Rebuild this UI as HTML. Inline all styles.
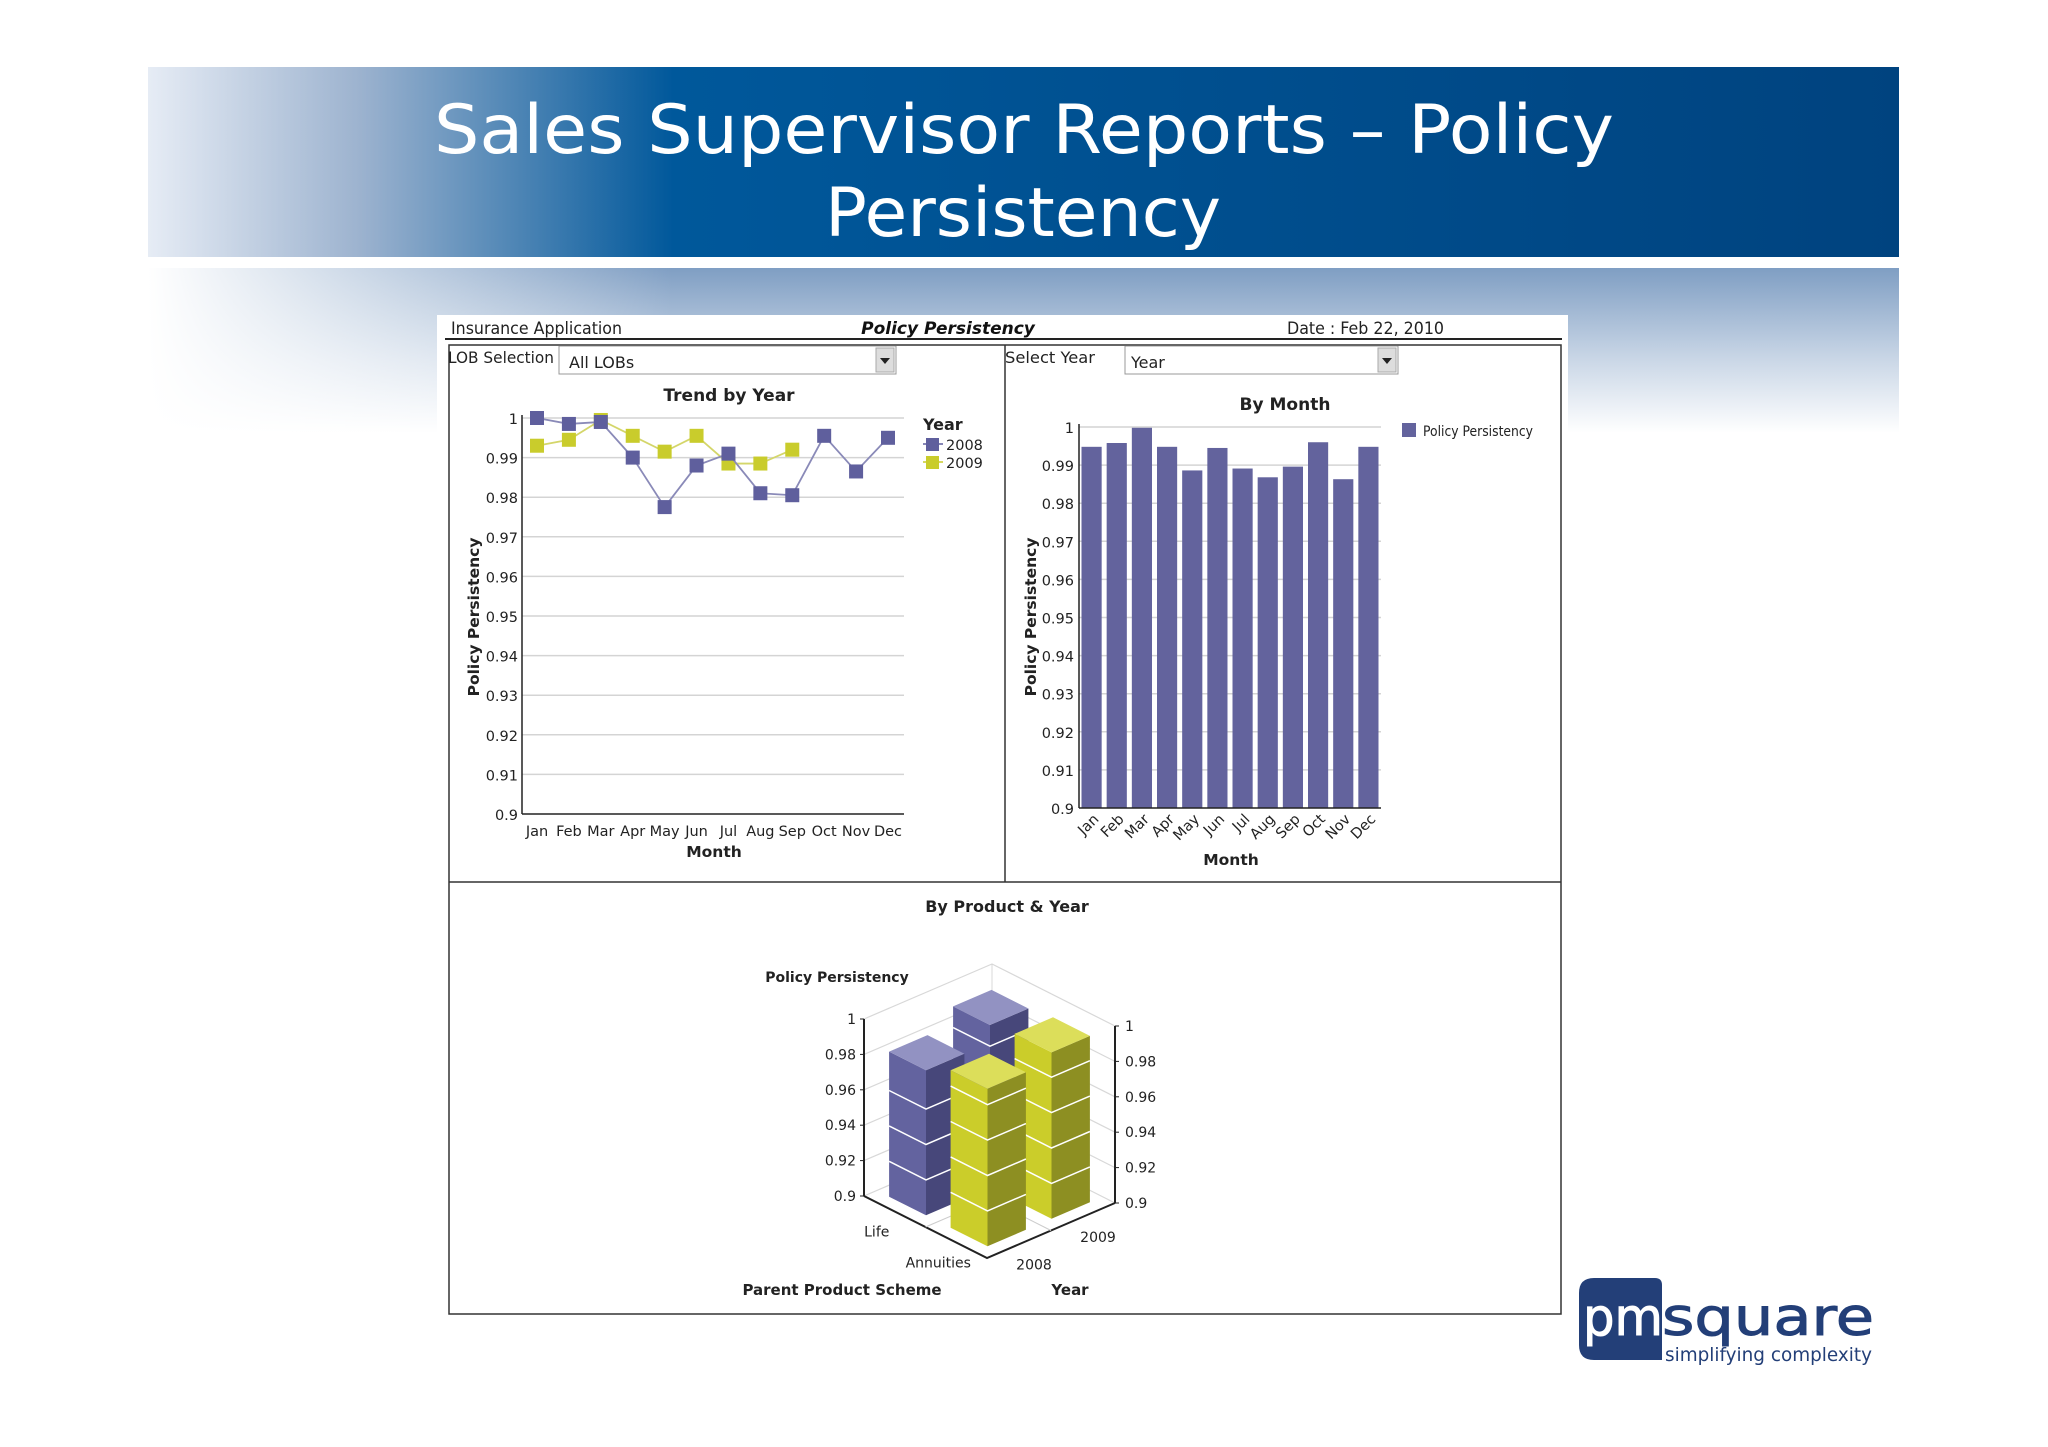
<!DOCTYPE html>
<html><head><meta charset="utf-8"><style>
html,body{margin:0;padding:0;background:#fff;}
svg{display:block;font-family:"DejaVu Sans","Liberation Sans",sans-serif;}
</style></head><body>
<svg id="s" width="2048" height="1447" viewBox="0 0 2048 1447" xmlns="http://www.w3.org/2000/svg">
<defs>
<linearGradient id="ban" x1="0" x2="1" y1="0" y2="0">
<stop offset="0" stop-color="#e6ecf5"/><stop offset="0.12" stop-color="#9db3cf"/><stop offset="0.3" stop-color="#00589b"/><stop offset="1" stop-color="#00437f"/></linearGradient>
<linearGradient id="band" x1="0" x2="0" y1="0" y2="1">
<stop offset="0" stop-color="#7f9ec3"/><stop offset="0.55" stop-color="#c9d6e6"/><stop offset="1" stop-color="#ffffff"/></linearGradient>
<linearGradient id="bandL" x1="0" x2="1" y1="0" y2="0">
<stop offset="0" stop-color="#fff" stop-opacity="1"/><stop offset="0.3" stop-color="#fff" stop-opacity="0"/><stop offset="1" stop-color="#fff" stop-opacity="0"/></linearGradient>
</defs>
<rect x="148" y="67" width="1751" height="190" fill="url(#ban)"/>
<text x="434" y="153" font-size="68" fill="#fff" textLength="1180" lengthAdjust="spacingAndGlyphs">Sales Supervisor Reports – Policy</text>
<text x="825" y="236" font-size="68" fill="#fff" textLength="396" lengthAdjust="spacingAndGlyphs">Persistency</text>
<rect x="148" y="268" width="1751" height="165" fill="url(#band)"/>
<rect x="148" y="268" width="1751" height="165" fill="url(#bandL)"/>

<rect x="437" y="315" width="1131" height="1000" fill="#fff"/>
<text x="451" y="334" font-size="17" fill="#222" textLength="171" lengthAdjust="spacingAndGlyphs">Insurance Application</text>
<text x="948" y="334" font-size="17" fill="#111" font-weight="bold" font-style="italic" text-anchor="middle">Policy Persistency</text>
<text x="1287" y="334" font-size="17" fill="#222" textLength="157" lengthAdjust="spacingAndGlyphs">Date : Feb 22, 2010</text>
<line x1="445" y1="339" x2="1562" y2="339" stroke="#222" stroke-width="2"/>
<rect x="449" y="345" width="1112" height="969" fill="none" stroke="#333" stroke-width="1.5"/>
<line x1="1005" y1="345" x2="1005" y2="882" stroke="#333" stroke-width="1.5"/>
<line x1="449" y1="882" x2="1561" y2="882" stroke="#333" stroke-width="1.5"/>

<text x="448" y="363" font-size="16" fill="#222" textLength="106" lengthAdjust="spacingAndGlyphs">LOB Selection</text>
<g>
<rect x="559" y="346" width="337" height="28" fill="#fff" stroke="#999"/>
<text x="569" y="368" font-size="16" fill="#222">All LOBs</text>
<rect x="876" y="348" width="18" height="24" fill="#ddd" stroke="#aaa"/>
<path d="M880 358 L890 358 L885 364 Z" fill="#222"/>
</g>
<text x="1005" y="363" font-size="16" fill="#222" textLength="90" lengthAdjust="spacingAndGlyphs">Select Year</text>
<g>
<rect x="1125" y="346" width="273" height="28" fill="#fff" stroke="#999"/>
<text x="1131" y="368" font-size="16" fill="#222">Year</text>
<rect x="1378" y="348" width="18" height="24" fill="#ddd" stroke="#aaa"/>
<path d="M1382 358 L1392 358 L1387 364 Z" fill="#222"/>
</g>
<g id="c1"></g><g id="c2"></g><g id="c3"></g>

<g>
<path d="M1594 1278 H1655 Q1662 1278 1662 1285 V1360 H1594 Q1579 1360 1579 1345 V1293 Q1579 1278 1594 1278 Z" fill="#233f78"/>
<text x="1583" y="1335" font-size="52" fill="#fff" stroke="#fff" stroke-width="1" textLength="80" lengthAdjust="spacingAndGlyphs">pm</text>
<text x="1662" y="1335" font-size="52" fill="#233f78" stroke="#233f78" stroke-width="1" textLength="212" lengthAdjust="spacingAndGlyphs">square</text>
<text x="1665" y="1361" font-size="19" fill="#233f78" textLength="207" lengthAdjust="spacingAndGlyphs">simplifying complexity</text>
</g>
</svg>
<script>
const NS="http://www.w3.org/2000/svg";
function mk(p,t,a,txt){const e=document.createElementNS(NS,t);for(const k in a)e.setAttribute(k,a[k]);if(txt!==undefined)e.textContent=txt;p.appendChild(e);return e;}
// ---- data ----
const months=["Jan","Feb","Mar","Apr","May","Jun","Jul","Aug","Sep","Oct","Nov","Dec"];
const yTicks=[0.9,0.91,0.92,0.93,0.94,0.95,0.96,0.97,0.98,0.99,1];
const yTickLabels=["0.9","0.91","0.92","0.93","0.94","0.95","0.96","0.97","0.98","0.99","1"];
const trend2008=[1.0,0.9985,0.999,0.990,0.9775,0.988,0.991,0.981,0.9805,0.9955,0.9865,0.995];
const trend2009=[0.993,0.9945,0.9995,0.9955,0.9915,0.9955,0.9885,0.9885,0.992];
const byMonth=[0.9948,0.9958,0.9998,0.9948,0.9886,0.9945,0.9891,0.9868,0.9896,0.996,0.9863,0.9948];
const products=["Annuities","Life"];
const years=["2008","2009"];
const annuitiesVals=[0.989,0.994];
const lifeVals=[0.982,0.992];
const y3Ticks=[0.9,0.92,0.94,0.96,0.98,1];
const y3Labels=["0.9","0.92","0.94","0.96","0.98","1"];
const PURPLE="#62629e",YEL="#c9cc2c";

// ---- chart 1 line ----
(function(){
const g=document.getElementById('c1');
const X0=522,X1=904,Y0=814,Y1=418;
const y=v=>Y0-(v-0.9)/0.1*(Y0-Y1);
const x=i=>537+i*(888-537)/11;
mk(g,'text',{x:729,y:401,'font-size':17,'font-weight':'bold','text-anchor':'middle',fill:'#222'},'Trend by Year');
yTicks.forEach((t,i)=>{
 if(i>0){const l=mk(g,'line',{x1:X0,x2:X1,y1:y(t),y2:y(t),stroke:'#d4d4d4','stroke-width':1.5});}
 const tx=mk(g,'text',{x:518,y:y(t)+6,'font-size':14.5,'text-anchor':'end',fill:'#222'},yTickLabels[i]);
 
});
mk(g,'line',{x1:X0,x2:X0,y1:Y1-3,y2:Y0,stroke:'#222','stroke-width':1.5});
mk(g,'line',{x1:X0,x2:X1,y1:Y0,y2:Y0,stroke:'#222','stroke-width':1.5});
months.forEach((m,i)=>{const t=mk(g,'text',{x:x(i),y:836,'font-size':14.5,'text-anchor':'middle',fill:'#222'},m);});
mk(g,'text',{x:714,y:857,'font-size':15.5,'font-weight':'bold','text-anchor':'middle',fill:'#222'},'Month');
const yt=mk(g,'text',{x:0,y:0,'font-size':15.5,'font-weight':'bold','text-anchor':'middle',fill:'#222',transform:'translate(479,617) rotate(-90)'},'Policy Persistency');

[[trend2009,YEL,'2009'],[trend2008,'#5f5f9d','2008']].forEach(([arr,c,nm])=>{
 const pl=mk(g,'polyline',{points:arr.map((v,i)=>x(i)+','+y(v)).join(' '),fill:'none',stroke:nm==='2008'?'#8a8ab8':'#d4d66a','stroke-width':1.8});
 
 arr.forEach((v,i)=>{const r=mk(g,'rect',{x:x(i)-7,y:y(v)-7,width:14,height:14,fill:c});
 });
});
mk(g,'text',{x:923,y:430,'font-size':16,'font-weight':'bold',fill:'#222'},'Year');
[['2008','#5f5f9d',450],['2009',YEL,468]].forEach(([n,c,yy])=>{
 const lg=mk(g,'g',{});
 mk(lg,'line',{x1:923,x2:943,y1:yy-6,y2:yy-6,stroke:c,'stroke-width':1.5});
 mk(lg,'rect',{x:926,y:yy-12,width:13,height:13,fill:c});
 mk(lg,'text',{x:946,y:yy,'font-size':14.5,fill:'#222'},n);
});
})();

// ---- chart 2 bars ----
(function(){
const g=document.getElementById('c2');
const X0=1079,X1=1381,Y0=808,Y1=427;
const y=v=>Y0-(v-0.9)/0.1*(Y0-Y1);
const bw=(X1-X0)/12;
mk(g,'text',{x:1285,y:410,'font-size':17,'font-weight':'bold','text-anchor':'middle',fill:'#222'},'By Month');
yTicks.forEach((t,i)=>{
 if(i>0){mk(g,'line',{x1:X0,x2:X1,y1:y(t),y2:y(t),stroke:'#d4d4d4','stroke-width':1.5});}
 const tx=mk(g,'text',{x:1074,y:y(t)+6,'font-size':14.5,'text-anchor':'end',fill:'#222'},yTickLabels[i]);
 
});
byMonth.forEach((v,i)=>{const r=mk(g,'rect',{x:X0+i*bw+2.5,y:y(v),width:bw-5,height:Y0-y(v),fill:'#63639d'});
 });
mk(g,'line',{x1:X0,x2:X0,y1:Y1-3,y2:Y0,stroke:'#222','stroke-width':1.5});
mk(g,'line',{x1:X0,x2:X1,y1:Y0,y2:Y0,stroke:'#222','stroke-width':1.5});
months.forEach((m,i)=>{const cx=X0+(i+0.5)*bw+8;const t=mk(g,'text',{x:0,y:0,'font-size':14.5,'text-anchor':'end',fill:'#222',transform:`translate(${cx},${820}) rotate(-45)`},m);});
mk(g,'text',{x:1231,y:865,'font-size':15.5,'font-weight':'bold','text-anchor':'middle',fill:'#222'},'Month');
const yt=mk(g,'text',{x:0,y:0,'font-size':15.5,'font-weight':'bold','text-anchor':'middle',fill:'#222',transform:'translate(1036,617) rotate(-90)'},'Policy Persistency');

const lg=mk(g,'g',{});
mk(lg,'rect',{x:1402,y:423,width:14,height:14,fill:'#63639d'});
mk(lg,'text',{x:1423,y:436,'font-size':14,fill:'#222',textLength:110,lengthAdjust:'spacingAndGlyphs'},'Policy Persistency');
})();

// ---- chart 3 3D bars ----
(function(){
const g=document.getElementById('c3');
const F=[987,1258],U=[-123,-62],V=[128,-55],H=1770;
const P=(u,v,val)=>[F[0]+u*U[0]+v*V[0],F[1]+u*U[1]+v*V[1]-(val-0.9)*H];
const pts=a=>a.map(p=>p[0].toFixed(1)+','+p[1].toFixed(1)).join(' ');
mk(g,'text',{x:1007,y:912,'font-size':16,'font-weight':'bold','text-anchor':'middle',fill:'#222'},'By Product & Year');
mk(g,'text',{x:837,y:982,'font-size':14,'font-weight':'bold','text-anchor':'middle',fill:'#222'},'Policy Persistency');
y3Ticks.forEach((t,i)=>{
 const a=P(1,0,t),b=P(1,1,t),c=P(0,1,t);
 mk(g,'polyline',{points:pts([a,b,c]),fill:'none',stroke:'#d8d8d8','stroke-width':1.2});
 const l=mk(g,'text',{x:a[0]-8,y:a[1]+5,'font-size':14,'text-anchor':'end',fill:'#222'},y3Labels[i]);
 
 const r=mk(g,'text',{x:c[0]+10,y:c[1]+5,'font-size':14,fill:'#222'},y3Labels[i]);
 
 mk(g,'line',{x1:a[0]-4,x2:a[0],y1:a[1],y2:a[1],stroke:'#222'});
 mk(g,'line',{x1:c[0],x2:c[0]+4,y1:c[1],y2:c[1],stroke:'#222'});
});
mk(g,'line',{x1:P(1,1,0.9)[0],y1:P(1,1,0.9)[1],x2:P(1,1,1)[0],y2:P(1,1,1)[1],stroke:'#d8d8d8'});
mk(g,'polyline',{points:pts([P(1,0,0.9),P(0,0,0.9),P(0,1,0.9)]),fill:'none',stroke:'#222','stroke-width':2});
mk(g,'line',{x1:P(0.5,0,0.9)[0],y1:P(0.5,0,0.9)[1],x2:P(0.5,1,0.9)[0],y2:P(0.5,1,0.9)[1],stroke:'#ccc'});
mk(g,'line',{x1:P(0,0.5,0.9)[0],y1:P(0,0.5,0.9)[1],x2:P(1,0.5,0.9)[0],y2:P(1,0.5,0.9)[1],stroke:'#ccc'});
mk(g,'line',{x1:P(1,0,0.9)[0],y1:P(1,0,0.9)[1],x2:P(1,0,1)[0],y2:P(1,0,1)[1],stroke:'#222','stroke-width':2});
mk(g,'line',{x1:P(0,1,0.9)[0],y1:P(0,1,0.9)[1],x2:P(0,1,1)[0],y2:P(0,1,1)[1],stroke:'#222','stroke-width':2});
products.forEach((p,i)=>{const q=P(0.25+i*0.5,0,0.9);const t=mk(g,'text',{x:q[0]-18,y:q[1]+25,'font-size':14,'text-anchor':'middle',fill:'#222'},p);});
years.forEach((yv,i)=>{const q=P(0,0.25+i*0.5,0.9);const t=mk(g,'text',{x:q[0]+15,y:q[1]+25,'font-size':14,'text-anchor':'middle',fill:'#222'},yv);});
mk(g,'text',{x:842,y:1295,'font-size':15,'font-weight':'bold','text-anchor':'middle',fill:'#222'},'Parent Product Scheme');
mk(g,'text',{x:1070,y:1295,'font-size':15,'font-weight':'bold','text-anchor':'middle',fill:'#222'},'Year');
const bars=[];
[lifeVals,annuitiesVals].forEach((arr,pi)=>{const prod=pi===0?1:0;arr.forEach((val,yi)=>bars.push({u:prod*0.5+0.1,v:yi*0.5+0.1,val,prod,yi}));});
bars.sort((a,b)=>(b.u+b.v)-(a.u+a.v));
bars.forEach(b=>{
 const cols=b.prod===1?['#63639f','#47477a','#9292c2']:['#cbcd2a','#8d8f22','#dcde5a'];
 const grp=mk(g,'g',{});
 
 
 const w=0.3,u0=b.u,v0=b.v,u1=u0+w,v1=v0+w;
 mk(grp,'polygon',{points:pts([P(u0,v0,0.9),P(u1,v0,0.9),P(u1,v0,b.val),P(u0,v0,b.val)]),fill:cols[0]});
 mk(grp,'polygon',{points:pts([P(u0,v0,0.9),P(u0,v1,0.9),P(u0,v1,b.val),P(u0,v0,b.val)]),fill:cols[1]});
 mk(grp,'polygon',{points:pts([P(u0,v0,b.val),P(u1,v0,b.val),P(u1,v1,b.val),P(u0,v1,b.val)]),fill:cols[2]});
 y3Ticks.forEach(t=>{if(t>0.9&&t<b.val-0.002){mk(grp,'polyline',{points:pts([P(u1,v0,t),P(u0,v0,t),P(u0,v1,t)]),fill:'none',stroke:'#fff','stroke-width':1.5});}});
});
})();
</script>
</body></html>
